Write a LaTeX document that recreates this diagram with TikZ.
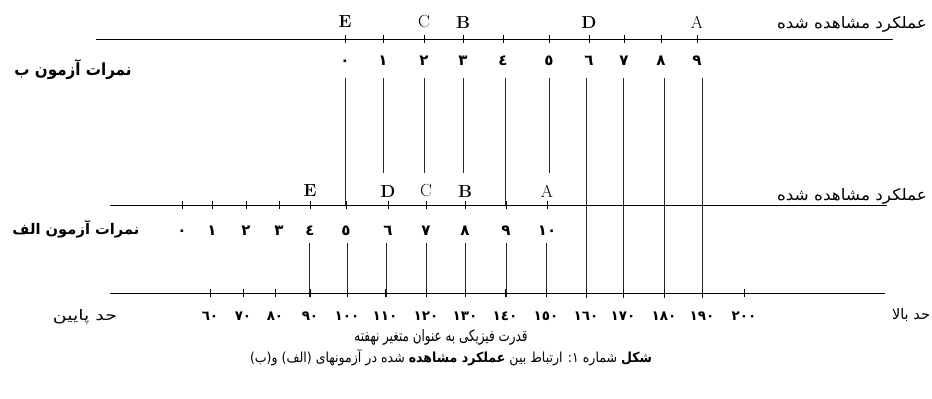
\documentclass[tikz,border=0pt]{standalone}
\usepackage{fontspec}
\usepackage{graphicx}
\newfontfamily\arabicfont[Script=Arabic]{DejaVu Sans}
\TeXXeTstate=1
\begin{document}
\begin{tikzpicture}[x=1pt,y=-1pt,
  axisline/.style={line width=0.9pt},
  vline/.style={line width=0.75pt,black!85},
  tickmark/.style={line width=0.8pt},
  letter/.style={font=\fontsize{17.5}{19}\selectfont,inner sep=0pt},
  dig/.style={font=\arabicfont\bfseries\fontsize{15}{17}\selectfont,inner sep=0pt,anchor=base},
  num/.style={font=\arabicfont\bfseries\fontsize{13.5}{15}\selectfont,inner sep=0pt,anchor=base},
  fa/.style={inner sep=0pt,anchor=base},
]
\useasboundingbox (0,0) rectangle (932,399);

% ---------- top axis (test B) ----------
\coordinate (tL) at (96,39);
\coordinate (tR) at (893,39);
\draw[axisline] (tL) -- (tR);
\foreach \x/\d [count=\i from 0] in {345/٠,383/١,424/٢,463/٣,503/٤,549/٥,589/٦,624/٧,661/٨,697/٩}{
  \draw[tickmark] (\x,35) -- (\x,43);
  \node[dig] (td\i) at (\x,65) {\d};
}
\node[letter] (tE) at (345,22) {\textbf{E}};
\node[letter] (tC) at (424,22) {C};
\node[letter] (tB) at (463,22) {\textbf{B}};
\node[letter] (tD) at (589,22) {\textbf{D}};
\node[letter] (tA) at (697,22) {A};
\node[fa] (obsTop) at (852,28) {\resizebox{150pt}{12pt}{\arabicfont\beginR عملکرد مشاهده شده\endR}};
\node[fa] (testB) at (73,75) {\resizebox{117pt}{16pt}{\arabicfont\bfseries\beginR نمرات آزمون ب\endR}};

% vertical lines from test B scores
\foreach \x/\e [count=\i from 0] in {345/205,383/173,424/173,463/173,505/205,549/173,586/298,623/298,664/298,702/298}{
  \coordinate (ua\i) at (\x,78);
  \coordinate (ub\i) at (\x,\e);
  \draw[vline] (ua\i) -- (ub\i);
}

% ---------- middle axis (test A) ----------
\coordinate (mL) at (110,205);
\coordinate (mR) at (887,205);
\draw[axisline] (mL) -- (mR);
\foreach \x/\d [count=\i from 0] in {182/٠,212/١,246/٢,279/٣,310/٤,346/٥,388/٦,426/٧,465/٨,506/٩,547/١٠}{
  \draw[tickmark] (\x,201) -- (\x,209);
  \node[dig] (md\i) at (\x,235) {\d};
}
\node[letter] (mE) at (310,191) {\textbf{E}};
\node[letter] (mD) at (388,191) {\textbf{D}};
\node[letter] (mC) at (426,191) {C};
\node[letter] (mB) at (465,191) {\textbf{B}};
\node[letter] (mA) at (547,191) {A};
\node[fa] (obsMid) at (852,200) {\resizebox{150pt}{12pt}{\arabicfont\beginR عملکرد مشاهده شده\endR}};
\node[fa] (testA) at (76,234) {\resizebox{127pt}{14pt}{\arabicfont\bfseries\beginR نمرات آزمون الف\endR}};

% vertical lines from test A scores
\foreach \x [count=\i from 0] in {309,347,386,426,465,506,546}{
  \coordinate (la\i) at (\x,243);
  \coordinate (lb\i) at (\x,297);
  \draw[vline] (la\i) -- (lb\i);
}

% ---------- bottom axis (latent variable) ----------
\coordinate (bL) at (110,293);
\coordinate (bR) at (885,293);
\draw[axisline] (bL) -- (bR);
\foreach \x/\d [count=\i from 0] in {210/٦٠,243/٧٠,275/٨٠,310/٩٠,347/١٠٠,385/١١٠,426/١٢٠,465/١٣٠,505/١٤٠,546/١٥٠,586/١٦٠,623/١٧٠,664/١٨٠,702/١٩٠,744/٢٠٠}{
  \draw[tickmark] (\x,289) -- (\x,297);
  \node[num] (bn\i) at (\x,320) {\d};
}
\node[fa] (low) at (85,320) {\resizebox{64pt}{11pt}{\arabicfont\beginR حد پایین\endR}};
\node[fa] (high) at (911,319) {\resizebox{38pt}{11pt}{\arabicfont\beginR حد بالا\endR}};
\node[fa] (latent) at (441,341) {\resizebox{173pt}{12pt}{\arabicfont\beginR قدرت فیزیکی به عنوان متغیر نهفته\endR}};
\node[fa] (caption) at (451,362) {\resizebox{402pt}{13pt}{\arabicfont\beginR{\bfseries شکل} شماره ١: ارتباط بین {\bfseries عملکرد مشاهده} شده در آزمونهای (الف) و(ب)\endR}};
\end{tikzpicture}
\end{document}
